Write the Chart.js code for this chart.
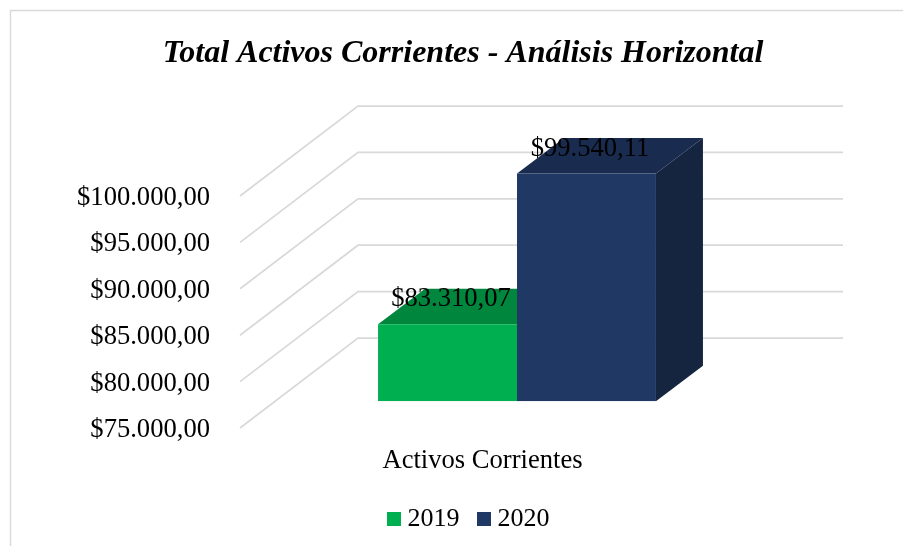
<!DOCTYPE html>
<html>
<head>
<meta charset="utf-8">
<style>
html,body{margin:0;padding:0;background:#fff;overflow:hidden}
#wrap{width:903px;height:546px;position:relative}
</style>
<script src="https://cdn.jsdelivr.net/npm/chart.js@4"></script>
</head>
<body>
<div id="wrap"><canvas id="c" width="903" height="546"></canvas></div>
<script>
const chartTitle = "Total Activos Corrientes - Análisis Horizontal";
const categories = ["Activos Corrientes"];
const seriesNames = ["2019", "2020"];
const values2019 = [83310.07];
const values2020 = [99540.11];
const tickLabels = ["$75.000,00","$80.000,00","$85.000,00","$90.000,00","$95.000,00","$100.000,00"];
const valueLabels2019 = ["$83.310,07"];
const valueLabels2020 = ["$99.540,11"];

const SERIF = "'Liberation Serif','Times New Roman',serif";
const frontColors = ["#00B050", "#1F3864"];
const topColors = ["#00873D", "#192C4F"];
const sideColors = ["#006B30", "#15243F"];
const wall = {dx: 118, dy: -90};
const inset = {dx: 34.5, dy: -26.7};
const barDepth = {dx: 47, dy: -35.5};

function legendSwatch(color){
  const s = document.createElement('canvas');
  s.width = 14; s.height = 14;
  const g = s.getContext('2d');
  g.fillStyle = color; g.fillRect(0,0,14,14);
  return s;
}

const depthPlugin = {
  id: 'depth',
  beforeDraw(chart){
    const ctx = chart.ctx;
    ctx.save();
    ctx.strokeStyle = '#d9d9d9';
    ctx.lineWidth = 1.4;
    ctx.beginPath();
    ctx.moveTo(10.5, chart.height);
    ctx.lineTo(10.5, 10.5);
    ctx.lineTo(chart.width, 10.5);
    ctx.stroke();
    ctx.restore();
  },
  afterLayout(chart){
    chart.titleBlock.left -= 8.5;
    chart.titleBlock.right -= 8.5;
  },
  beforeDatasetsDraw(chart){
    const ctx = chart.ctx, y = chart.scales.y, area = chart.chartArea;
    ctx.save();
    ctx.strokeStyle = '#d9d9d9';
    ctx.lineWidth = 1.75;
    y.ticks.forEach((t, i) => {
      const py = y.getPixelForTick(i);
      ctx.beginPath();
      ctx.moveTo(area.left, py);
      ctx.lineTo(area.left + wall.dx, py + wall.dy);
      ctx.lineTo(area.right + wall.dx, py + wall.dy);
      ctx.stroke();
    });
    chart.data.datasets.forEach((ds, di) => {
      chart.getDatasetMeta(di).data.forEach(el => {
        const p = el.getProps(['x','y','base','width'], true);
        const l = p.x - p.width/2 + inset.dx, r = p.x + p.width/2 + inset.dx;
        const t = p.y + inset.dy, b = p.base + inset.dy;
        ctx.fillStyle = topColors[di];
        ctx.beginPath();
        ctx.moveTo(l, t);
        ctx.lineTo(l + barDepth.dx, t + barDepth.dy);
        ctx.lineTo(r + barDepth.dx, t + barDepth.dy);
        ctx.lineTo(r, t);
        ctx.closePath();
        ctx.fill();
        ctx.fillStyle = sideColors[di];
        ctx.beginPath();
        ctx.moveTo(r, t);
        ctx.lineTo(r + barDepth.dx, t + barDepth.dy);
        ctx.lineTo(r + barDepth.dx, b + barDepth.dy);
        ctx.lineTo(r, b);
        ctx.closePath();
        ctx.fill();
      });
    });
    ctx.restore();
  },
  beforeDatasetDraw(chart){
    chart.ctx.save();
    chart.ctx.translate(inset.dx, inset.dy);
  },
  afterDatasetDraw(chart){
    chart.ctx.restore();
  },
  afterDatasetsDraw(chart){
    const ctx = chart.ctx;
    const labels = [valueLabels2019, valueLabels2020];
    ctx.save();
    ctx.fillStyle = '#000';
    ctx.font = "26.6px " + SERIF;
    ctx.textAlign = 'center';
    ctx.textBaseline = 'middle';
    chart.data.datasets.forEach((ds, di) => {
      chart.getDatasetMeta(di).data.forEach((el, i) => {
        const p = el.getProps(['x','y'], true);
        ctx.fillText(labels[di][i], p.x + inset.dx + 3.5, p.y - 51.5);
      });
    });
    ctx.restore();
  }
};

new Chart(document.getElementById('c'), {
  type: 'bar',
  data: {
    labels: categories,
    datasets: [
      {label: seriesNames[0], data: values2019, backgroundColor: frontColors[0], base: 75000},
      {label: seriesNames[1], data: values2020, backgroundColor: frontColors[1], base: 75000}
    ]
  },
  plugins: [depthPlugin],
  options: {
    responsive: false,
    animation: false,
    layout: {padding: {left: 40, right: 0, top: 0, bottom: 4}},
    datasets: {bar: {barPercentage: 1, categoryPercentage: 0.573, grouped: true}},
    scales: {
      x: {
        grid: {display: false, drawTicks: false},
        border: {display: false},
        ticks: {color: '#000', font: {family: SERIF, size: 26.6}, padding: 17, maxRotation: 0},
        afterFit(s){ s.height = 54; }
      },
      y: {
        min: 75000, max: 100000,
        grid: {display: false, drawTicks: false},
        border: {display: false},
        ticks: {
          stepSize: 5000, color: '#000', padding: 30, labelOffset: 2,
          font: {family: SERIF, size: 26.6},
          callback: (v, i) => tickLabels[i]
        },
        afterFit(s){ s.width = 200; }
      },
      spacer: {
        position: 'right', display: true,
        grid: {display: false, drawTicks: false},
        border: {display: false},
        ticks: {display: false},
        afterFit(s){ s.width = 178; }
      }
    },
    plugins: {
      tooltip: {enabled: false},
      title: {
        display: true, text: chartTitle, color: '#000',
        font: {family: SERIF, size: 32, weight: 'bold', style: 'italic'},
        padding: {top: 35, bottom: 122.6}
      },
      legend: {
        position: 'bottom',
        labels: {
          color: '#000',
          font: {family: SERIF, size: 26},
          usePointStyle: true, boxWidth: 1, boxHeight: 14, padding: 24,
          generateLabels(chart){
            const items = Chart.defaults.plugins.legend.labels.generateLabels(chart);
            items.forEach((it, i) => { it.pointStyle = legendSwatch(frontColors[i]); });
            return items;
          }
        }
      }
    }
  }
});
</script>
</body>
</html>
